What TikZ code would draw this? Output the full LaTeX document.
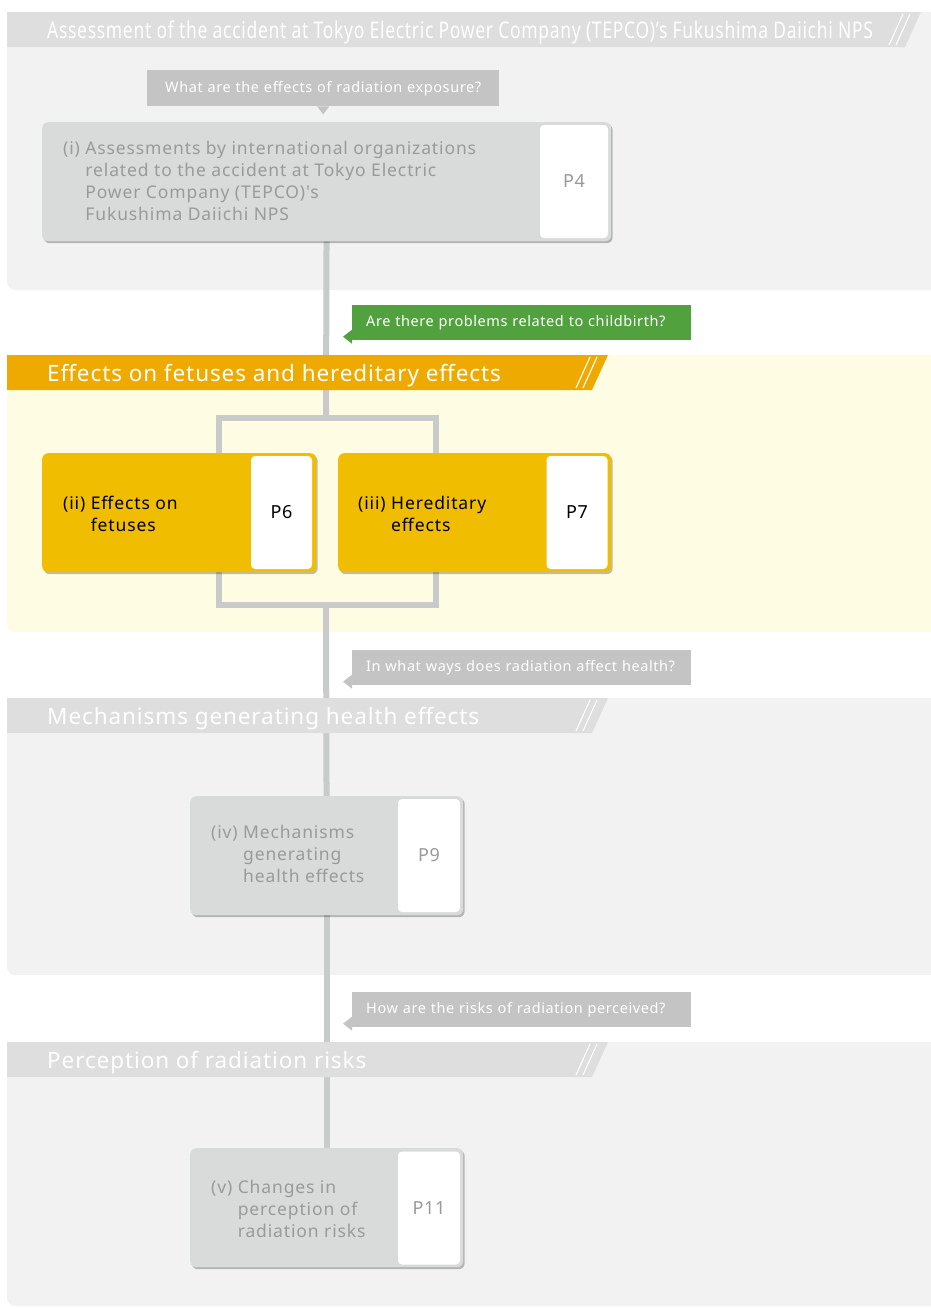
\documentclass[tikz,border=0pt]{standalone}
\usepackage{fontspec}
\setmainfont{Noto Sans}[LetterSpace=4]
\newfontfamily\itemfont{Noto Sans}[LetterSpace=5]
\usepackage{graphicx}
\usetikzlibrary{shadows}

\definecolor{panelgray}{HTML}{F2F2F2}
\definecolor{panelyellow}{HTML}{FFFCE4}
\definecolor{bargray}{HTML}{DEDEDE}
\definecolor{barorange}{HTML}{EEAA00}
\definecolor{boxgray}{HTML}{D9DADA}
\definecolor{boxyellow}{HTML}{F1BD00}
\definecolor{textgray}{HTML}{9A9A9A}
\definecolor{linegray}{HTML}{C9CACA}
\definecolor{asktgray}{HTML}{C3C4C3}
\definecolor{askgreen}{HTML}{52A13F}

\pgfdeclarelayer{panels}
\pgfdeclarelayer{lines}
\pgfsetlayers{panels,lines,main}

% section bar: top y, right x, colour
\newcommand{\secbar}[3]{%
  \fill[#3] (7,#1) -- (#2,#1) -- (#2-16,#1+35) -- (7,#1+35) -- cycle;
  \draw[white,line width=1.1pt] (#2-11,#1+2) -- (#2-25,#1+33)
                                (#2-18,#1+2) -- (#2-32,#1+33);
}

\begin{document}
\begin{tikzpicture}
  [x=1pt,y=-1pt,
   hdrtext/.style={text=white,anchor=base west,inner sep=0,font=\fontsize{22.5}{26}\selectfont},
   itembox/.style={rounded corners=6pt,anchor=north west,inner sep=0,
     drop shadow={shadow xshift=1.5pt,shadow yshift=-2pt,fill=black,opacity=0.25}},
   graybox/.style={itembox,fill=boxgray},
   yellowbox/.style={itembox,fill=boxyellow},
   pagebox/.style={fill=white,rounded corners=4pt,inner sep=0,minimum height=113pt,
     font=\fontsize{18}{20}\selectfont},
   itemtext/.style={anchor=base west,inner sep=0,font=\itemfont\fontsize{17.5}{22}\selectfont},
   ask/.style={anchor=north west,inner xsep=14pt,inner ysep=0,minimum height=35pt,
     text width=311pt,align=left,text=white,font=\fontsize{14.5}{17}\selectfont},
   conn/.style={linegray,line width=6pt}]

  \useasboundingbox (0,0) rectangle (930,1309);

  % panels
  \begin{pgfonlayer}{panels}
    \fill[panelgray,rounded corners=8pt] (7,12) rectangle (945,290);
    \fill[panelyellow,rounded corners=8pt] (7,355) rectangle (945,632);
    \fill[panelgray,rounded corners=8pt] (7,698) rectangle (945,975);
    \fill[panelgray,rounded corners=8pt] (7,1042) rectangle (945,1306);
  \end{pgfonlayer}

  % section bars
  \secbar{12}{921}{bargray}
  \secbar{355}{608}{barorange}
  \secbar{698}{608}{bargray}
  \secbar{1042}{608}{bargray}
  \node[hdrtext] (h1) at (47,38)
    {\scalebox{0.76}[1]{\fontsize{23}{26}\selectfont Assessment of the accident at Tokyo Electric Power Company (TEPCO)'s Fukushima Daiichi NPS}};
  \node[hdrtext] (h2) at (47,381) {Effects on fetuses and hereditary effects};
  \node[hdrtext] (h3) at (47,724) {Mechanisms generating health effects};
  \node[hdrtext] (h4) at (47,1068) {Perception of radiation risks};

  % question tags
  \node[ask,fill=asktgray,text width=322pt,inner xsep=15pt,minimum height=36pt,align=center]
    (q1) at (147,70) {What are the effects of radiation exposure?};
  \fill[asktgray] ([xshift=-6pt]q1.south) -- ++(6,8) -- ++(6,-8) -- cycle;
  \node[ask,fill=askgreen] (q2) at (352,305) {Are there problems related to childbirth?};
  \node[ask,fill=asktgray] (q3) at (352,650) {In what ways does radiation affect health?};
  \node[ask,fill=asktgray] (q4) at (352,992) {How are the risks of radiation perceived?};
  \foreach \q/\c in {q2/askgreen,q3/asktgray,q4/asktgray}
    \fill[\c] ([yshift=-7pt]\q.west) -- ++(-9,7) -- ++(9,7) -- cycle;

  % boxes
  \node[graybox,minimum width=569pt,minimum height=119pt] (i) at (42,122) {};
  \node[yellowbox,minimum width=274pt,minimum height=119pt] (ii) at (42,453) {};
  \node[yellowbox,minimum width=273pt,minimum height=119pt] (iii) at (338,453) {};
  \node[graybox,minimum width=273pt,minimum height=119pt] (iv) at (190,796) {};
  \node[graybox,minimum width=273pt,minimum height=119pt] (v) at (190,1148) {};

  \node[pagebox,minimum width=68pt,text=textgray] (p4) at (574,181.5) {P4};
  \node[pagebox,minimum width=61pt] (p6) at (281.5,512.5) {P6};
  \node[pagebox,minimum width=61pt] (p7) at (577,512.5) {P7};
  \node[pagebox,minimum width=62pt,text=textgray] (p9) at (429,855.5) {P9};
  \node[pagebox,minimum width=62pt,text=textgray] (p11) at (429,1208) {P11};

  \node[itemtext,text=textgray] (ti) at (63,154)
    {\begin{tabular}[t]{@{}l@{\ }l@{}}(i)&Assessments by international organizations\\
     &related to the accident at Tokyo Electric\\
     &Power Company (TEPCO)'s\\
     &Fukushima Daiichi NPS\end{tabular}};
  \node[itemtext] (tii) at (63,509)
    {\begin{tabular}[t]{@{}l@{\ }l@{}}(ii)&Effects on\\&fetuses\end{tabular}};
  \node[itemtext] (tiii) at (358,509)
    {\begin{tabular}[t]{@{}l@{\ }l@{}}(iii)&Hereditary\\&effects\end{tabular}};
  \node[itemtext,text=textgray] (tiv) at (211,838)
    {\begin{tabular}[t]{@{}l@{\ }l@{}}(iv)&Mechanisms\\&generating\\&health effects\end{tabular}};
  \node[itemtext,text=textgray] (tv) at (211,1193)
    {\begin{tabular}[t]{@{}l@{\ }l@{}}(v)&Changes in\\&perception of\\&radiation risks\end{tabular}};

  % connectors
  \coordinate (fork) at (326,418);
  \coordinate (join) at (326,605);
  \begin{pgfonlayer}{lines}
    \draw[conn] (i) -- (fork);
    \draw[conn] ([xshift=40pt]ii.center) |- (fork) -| ([xshift=-39pt]iii.center);
    \draw[conn] ([xshift=40pt]ii.center) |- (join) -| ([xshift=-39pt]iii.center);
    \foreach \from/\to in {join/iv,iv/v}
      \draw[conn] (\from) -- (\to);
  \end{pgfonlayer}
\end{tikzpicture}
\end{document}
